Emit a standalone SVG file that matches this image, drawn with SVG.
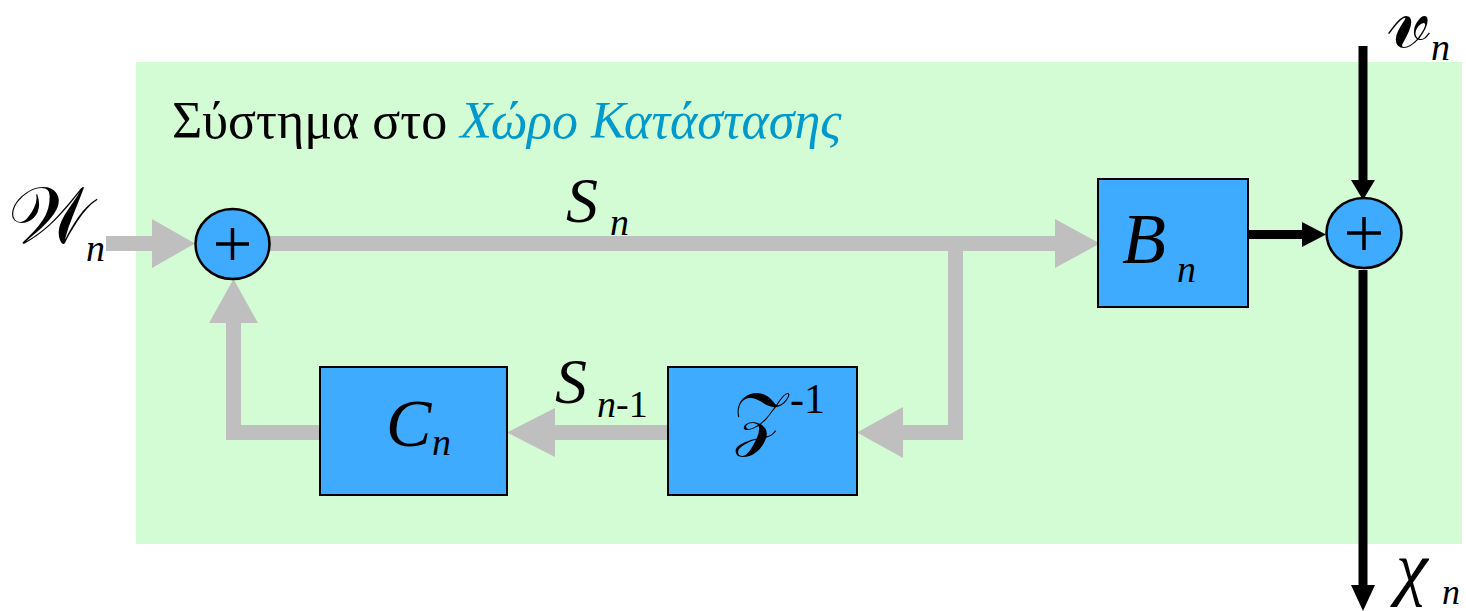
<svg xmlns="http://www.w3.org/2000/svg" width="1466" height="611" viewBox="0 0 1466 611">
<style>
.s{font-family:'Times New Roman'}
.i{font-family:'Times New Roman';font-style:italic}
.blk{fill:#3fabff;stroke:#000;stroke-width:2}
.sum{fill:#3fabff;stroke:#000;stroke-width:2.5}
.plus{stroke:#000;stroke-width:3.5;fill:none}
.g{fill:#bfbfbf}
.gl{stroke:#bfbfbf;stroke-width:15;fill:none}
.kl{stroke:#000;stroke-width:9;fill:none}
.k{fill:#000}
</style>
<rect x="136" y="62" width="1326" height="482" fill="#d4fcd4"/>
<text class="s" x="172" y="138" font-size="52"><tspan fill="#000">Σύστημα στο </tspan><tspan fill="#0099cc" font-style="italic">Χώρο Κατάστασης</tspan></text>
<g id="connectors">
<line class="gl" x1="106" y1="243.5" x2="160" y2="243.5"/>
<polygon class="g" points="152,219 195,243.5 152,268"/>
<line class="gl" x1="265" y1="243.5" x2="1060" y2="243.5"/>
<polygon class="g" points="1055,219 1100,243.5 1055,268"/>
<polyline class="gl" points="955.5,243.5 955.5,432.5 900,432.5"/>
<polygon class="g" points="903,407 857,432.5 903,458"/>
<line class="gl" x1="668" y1="432.5" x2="550" y2="432.5"/>
<polygon class="g" points="555,408 507,432.5 555,457"/>
<polyline class="gl" points="320,432.5 233.5,432.5 233.5,318"/>
<polygon class="g" points="209,323 233.5,279 258,323"/>
<line class="kl" x1="1248" y1="234.5" x2="1306" y2="234.5"/>
<polygon class="k" points="1302,222 1326,234.5 1302,247"/>
<line class="kl" x1="1363" y1="46" x2="1363" y2="184"/>
<polygon class="k" points="1351,180 1363,200 1375,180"/>
<line class="kl" x1="1363" y1="270" x2="1363" y2="590"/>
<polygon class="k" points="1351,585 1363,611 1375,585"/>
</g>
<g id="sum1">
<ellipse class="sum" cx="232.5" cy="244" rx="37" ry="35"/>
<path class="plus" d="M216,244H249M232.5,228V260"/>
</g>
<g id="sum2">
<ellipse class="sum" cx="1364" cy="233" rx="37.5" ry="35"/>
<path class="plus" d="M1347,233H1381M1364,217V250"/>
</g>
<g id="Bn">
<rect class="blk" x="1098" y="179" width="150" height="128"/>
<text class="i" x="1122" y="263" font-size="72">B</text>
<text class="i" x="1177" y="282" font-size="38">n</text>
</g>
<g id="Cn">
<rect class="blk" x="320" y="367" width="187" height="128"/>
<text class="i" x="386" y="446" font-size="68">C</text>
<text class="i" x="432" y="455" font-size="38">n</text>
</g>
<g id="Z">
<rect class="blk" x="668" y="367" width="189" height="128"/>
<text class="s" x="733" y="442" font-size="70">𝒵</text>
<text class="s" x="790" y="413" font-size="42">-1</text>
</g>
<g id="labels">
<text class="s" x="8" y="243" font-size="80">𝒲</text>
<text class="i" x="86" y="261" font-size="38">n</text>
<text class="i" x="566" y="222" font-size="64">S</text>
<text class="i" x="610" y="235" font-size="38">n</text>
<text class="i" x="555" y="403" font-size="64">S</text>
<text class="i" x="597" y="417" font-size="38">n<tspan font-style="normal">-1</tspan></text>
<text class="s" x="1388" y="47" font-size="88">𝓋</text>
<text class="i" x="1431" y="60" font-size="38">n</text>
<text class="i" x="1396" y="592" font-size="72">χ</text>
<text class="i" x="1442" y="604" font-size="36">n</text>
</g>
</svg>
